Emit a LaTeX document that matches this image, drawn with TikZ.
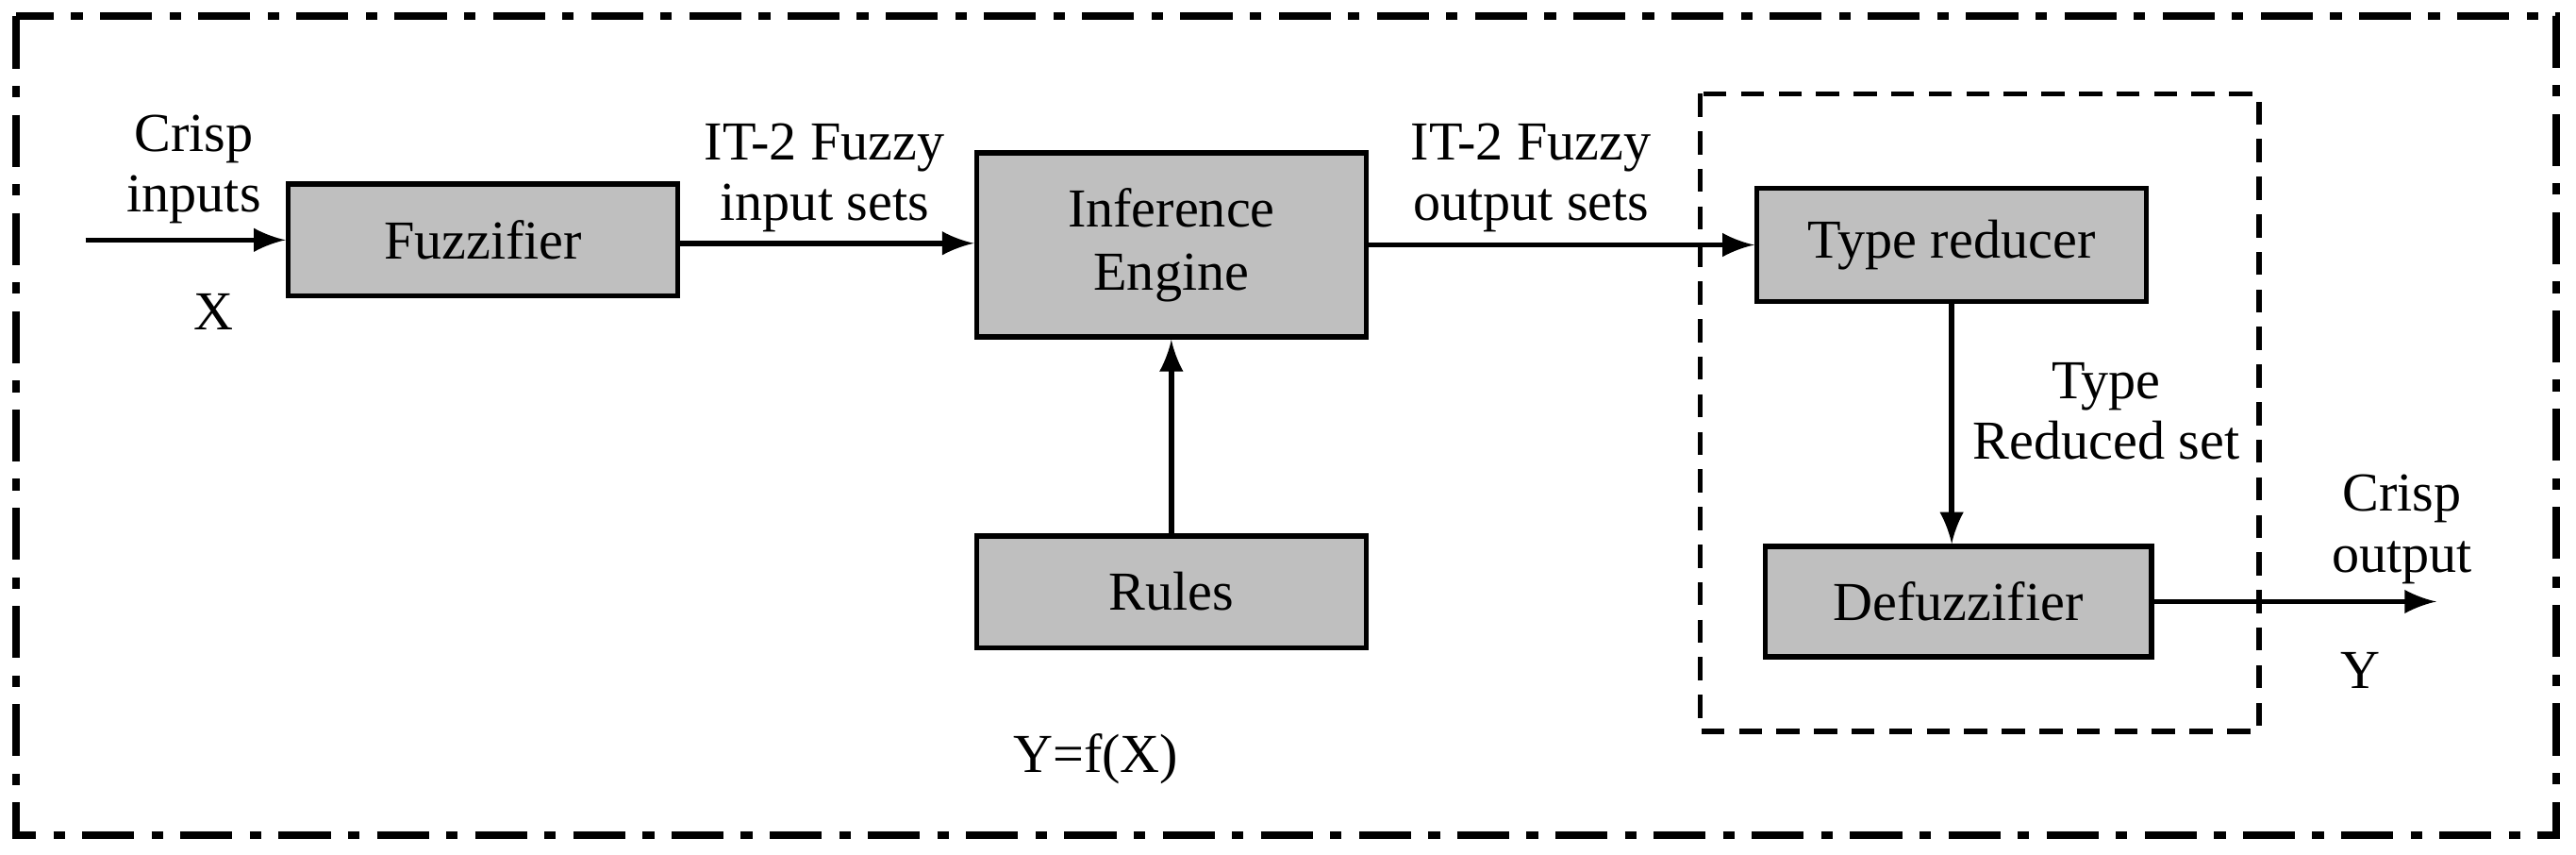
\documentclass[tikz,border=0pt]{standalone}
\usepackage{fontspec}
\setmainfont{Liberation Serif}
\begin{document}
\begin{tikzpicture}[x=0.01cm,y=-0.01cm,
 blk/.style={draw,line width=0.9pt,fill=black!25,minimum width=2.37cm,inner sep=0pt,font=\fontsize{9.5}{11}\selectfont,align=center},
 lbl/.style={font=\fontsize{9.5}{10.5}\selectfont,align=center,inner sep=0pt},
 arr/.style={->,>=latex,line width=0.9pt}]
\useasboundingbox (0,0) rectangle (1568,520);
\draw[line width=1.3pt,dash pattern=on 9pt off 3pt on 2pt off 3pt] (10,10) rectangle (1556,508);
\draw[line width=0.9pt,dash pattern=on 4pt off 2.5pt] (1035,57) rectangle (1375,445);
\node[blk,minimum height=0.68cm] (fz) at (294,146) {Fuzzifier};
\node[blk,minimum height=1.12cm] (ie) at (713,149) {Inference\\Engine};
\node[blk,minimum height=0.68cm] (ru) at (713,360) {Rules};
\node[blk,minimum height=0.69cm] (tr) at (1188,149) {Type reducer};
\node[blk,minimum height=0.67cm,minimum width=2.35cm] (df) at (1192,366) {Defuzzifier};
\coordinate (in) at (52,146);
\coordinate (out) at (1483,366);
\draw[arr] (in) -- (fz.west);
\draw[arr] (fz.east|-0,148) -- (ie.west|-0,148);
\draw[arr] (ie.east|-0,149) -- (tr.west|-0,149);
\draw[arr] (ru) -- (ie);
\draw[arr] (tr.south-|1188,0) -- (df.north-|1188,0);
\draw[arr] (df.east) -- (out);
\node[lbl] (l1) at (118,103) {Crisp\\inputs};
\node[lbl] (l2) at (130,190) {X};
\node[lbl] (l3) at (502,108) {IT-2 Fuzzy\\input sets};
\node[lbl] (l4) at (932,108) {IT-2 Fuzzy\\output sets};
\node[lbl] (l5) at (1282,250) {Type\\Reduced set};
\node[lbl] (l6) at (1462,322) {Crisp\\output};
\node[lbl] (l7) at (1437,408) {Y};
\node[lbl] (l8) at (667,462) {Y=f(X)};
\end{tikzpicture}
\end{document}
